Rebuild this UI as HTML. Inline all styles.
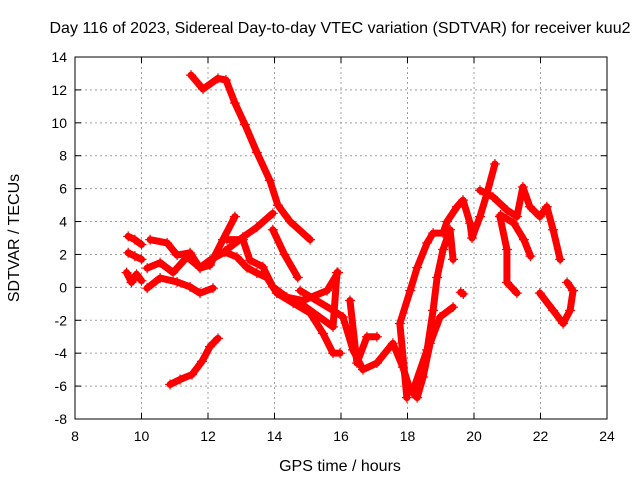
<!DOCTYPE html>
<html><head><meta charset="utf-8"><style>
body{margin:0;background:#fff}
svg text{font-family:"Liberation Sans",sans-serif;font-size:14px;fill:#000}
svg text.big{font-size:16px}
</style></head><body>
<svg id="chart" width="640" height="480" viewBox="0 0 640 480" xmlns="http://www.w3.org/2000/svg">
<text class="big" x="340" y="33" text-anchor="middle">Day 116 of 2023, Sidereal Day-to-day VTEC variation (SDTVAR) for receiver kuu2</text>
<text class="big" x="340" y="471" text-anchor="middle">GPS time / hours</text>
<text class="big" transform="translate(19,238) rotate(-90)" text-anchor="middle">SDTVAR / TECUs</text>
<g id="grid"></g>
<g id="axes"></g>
<g id="marks"></g>
</svg>
<script>
const xTicks=[8,10,12,14,16,18,20,22,24];
const yTicks=[-8,-6,-4,-2,0,2,4,6,8,10,12,14];
const trackTimes=[
[11.49,11.85,12.3,12.54,12.81,13.11,13.47,13.86,14.1,14.47,15.07],
[10.86,11.16,11.52,11.82,12.06,12.3],
[9.6,9.8,10.0],
[9.6,9.8,10.0],
[9.55,9.7,9.85,10.0],
[10.26,10.77,11.07,11.46,11.76,12.06,12.45,12.81],
[10.17,10.56,10.95,11.37,11.76,12.06,12.51,12.87,13.17,13.47,13.77,14.07,14.56,15.07,15.46,15.76,15.97],
[10.17,10.56,11.07,11.46,11.76,12.15],
[12.51,13.05,13.47,13.95],
[12.57,13.05,13.26,13.65,13.95,14.37,14.86,15.58,15.91],
[13.95,14.3,14.7],
[14.77,15.76,16.06,16.36,16.66,17.08,17.56,17.86,18.08,18.29,18.47,18.68,18.98,19.37],
[17.98,17.77,18.08,18.29,18.59,18.77,19.07,19.19,19.49,19.67,19.88,19.94,20.18,20.39,20.63],
[18.17,18.59,18.77,18.89,19.07,19.28,19.37],
[20.18,20.57,20.99,21.29,21.47,21.68,21.98,22.19,22.38,22.59],
[20.78,20.99,20.99,21.29],
[20.8,21.2,21.5,21.7],
[21.98,22.38,22.68,22.89,22.98,22.8],
[19.6,19.68],
[16.27,16.48,16.78,17.08],
[14.77,15.76,15.88]
];
const trackValues=[
[12.9,12.05,12.7,12.6,11.2,9.9,8.2,6.5,5.0,4.0,2.9],
[-5.9,-5.6,-5.3,-4.5,-3.6,-3.1],
[3.1,2.9,2.6],
[2.1,1.9,1.7],
[0.9,0.3,0.8,0.4],
[2.9,2.7,1.96,2.1,1.17,1.35,2.9,4.3],
[1.17,1.5,0.9,1.85,1.2,1.65,2.15,1.84,1.2,0.87,0.6,-0.35,-0.95,-1.56,-2.8,-4.0,-4.0],
[-0.05,0.57,0.33,0.03,-0.35,-0.05],
[2.2,3.05,3.65,4.5],
[2.9,2.9,1.65,1.25,0.03,-0.6,-0.8,-0.2,0.9],
[3.5,2.0,0.6],
[-0.2,-1.4,-1.8,-3.8,-5.0,-4.6,-3.4,-4.85,-6.25,-6.7,-5.45,-3.4,-1.8,-1.2],
[-6.7,-2.2,-0.2,1.2,2.7,3.3,3.3,4.0,4.9,5.3,3.9,3.0,4.3,5.7,7.5],
[-6.25,-3.8,-1.4,0.6,2.3,3.5,1.7],
[5.9,5.5,4.7,4.3,6.1,4.9,4.3,4.9,3.5,1.7],
[4.3,2.3,0.3,-0.35],
[4.4,3.9,2.9,1.9],
[-0.35,-1.4,-2.2,-1.4,-0.2,0.3],
[-0.3,-0.4],
[-0.8,-4.6,-3.0,-3.0],
[-0.95,-2.4,0.9]
];
const X0=75,X1=607,Y0=419,Y1=57;
const sx=t=>X0+(t-8)/(24-8)*(X1-X0);
const sy=v=>Y0-(v+8)/(14+8)*(Y0-Y1);
const NS="http://www.w3.org/2000/svg";
function mk(tag,attrs,parent){const e=document.createElementNS(NS,tag);for(const k in attrs)e.setAttribute(k,attrs[k]);parent.appendChild(e);return e;}
const grid=document.getElementById('grid'),axes=document.getElementById('axes'),marks=document.getElementById('marks');
xTicks.forEach(t=>{
  const x=sx(t);
  if(t>8&&t<24){const g=mk('line',{x1:x,x2:x,y1:Y1,y2:Y0,stroke:'#a0a0a0','stroke-dasharray':'2,3'},grid);
  
  }
  mk('line',{x1:x,x2:x,y1:Y0,y2:Y0-6,stroke:'#000'},axes);
  mk('line',{x1:x,x2:x,y1:Y1,y2:Y1+6,stroke:'#000'},axes);
  const l=mk('text',{x:x,y:Y0+22,'text-anchor':'middle'},axes);l.textContent=t;
  
  
});
yTicks.forEach(v=>{
  const y=sy(v);
  if(v>-8&&v<14){const g=mk('line',{x1:X0,x2:X1,y1:y,y2:y,stroke:'#a0a0a0','stroke-dasharray':'2,3'},grid);
  
  }
  mk('line',{x1:X0,x2:X0+6,y1:y,y2:y,stroke:'#000'},axes);
  mk('line',{x1:X1,x2:X1-6,y1:y,y2:y,stroke:'#000'},axes);
  const l=mk('text',{x:X0-8,y:y+5,'text-anchor':'end'},axes);l.textContent=v;
  
  
});
const fr=mk('rect',{x:X0,y:Y1,width:X1-X0,height:Y0-Y1,fill:'none',stroke:'#000'},axes);


trackTimes.forEach((ts,i)=>{
  const vs=trackValues[i];
  const pts=ts.map((t,j)=>sx(t)+','+sy(vs[j])).join(' ');
  const pl=mk('polyline',{points:pts,fill:'none',stroke:'#ff0000','stroke-width':7,'stroke-linejoin':'round','stroke-linecap':'round'},marks);
  
  
  ts.forEach((t,j)=>{
    const x=sx(t),y=sy(vs[j]);
    const p=mk('path',{d:`M${x-5},${y}H${x+5}M${x},${y-5}V${y+5}`,stroke:'#ff0000','stroke-width':1.2},marks);
    
    
  });
});
</script>
</body></html>
